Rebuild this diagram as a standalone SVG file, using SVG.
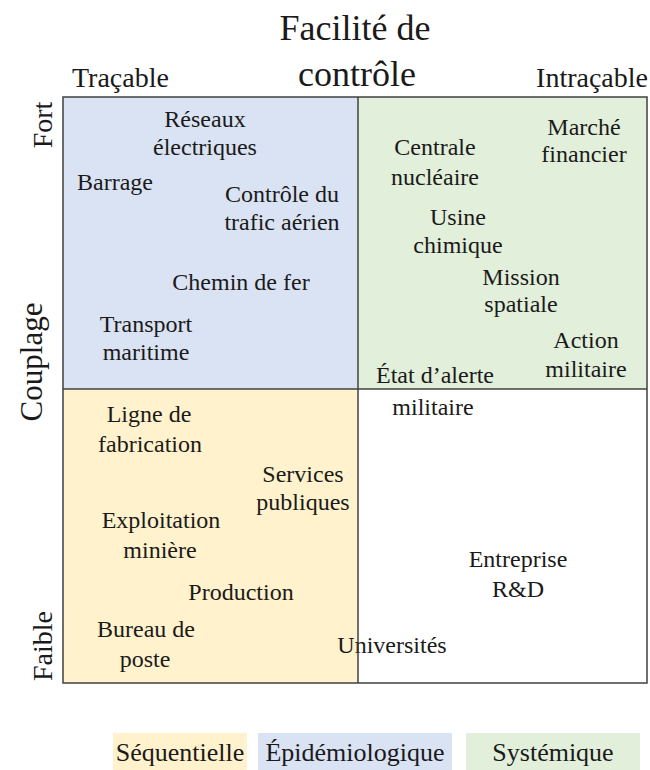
<svg xmlns="http://www.w3.org/2000/svg" width="650" height="770" viewBox="0 0 650 770">
<style>
text{font-family:"Liberation Serif","Times New Roman",serif;fill:#1a1a1a}
.b{font-size:24px;text-anchor:middle}
.ax{font-size:28px}
.t{font-size:36px;text-anchor:middle}
.lg{font-size:26px;text-anchor:middle}
.ln{stroke:#404040;stroke-width:1.5;fill:none}
</style>
<rect width="650" height="770" fill="#ffffff"/>
<g id="quadrants">
<rect x="63" y="97" width="295" height="292" fill="#dae3f3"/>
<rect x="358" y="97" width="289" height="292" fill="#e2efda"/>
<rect x="63" y="389" width="295" height="294" fill="#fff2cc"/>
</g>
<g id="title">
<text class="t" x="355" y="40">Facilité de</text>
<text class="t" x="357" y="86">contrôle</text>
</g>
<g id="axis-x">
<text class="ax" x="72" y="87">Traçable</text>
<text class="ax" x="648" y="87" text-anchor="end">Intraçable</text>
</g>
<g id="axis-y">
<text class="ax" x="52" y="125" text-anchor="middle" transform="rotate(-90 52 125)">Fort</text>
<text class="ax" x="52" y="646" text-anchor="middle" transform="rotate(-90 52 646)">Faible</text>
<text x="42" y="362" text-anchor="middle" font-size="31" transform="rotate(-90 42 362)">Couplage</text>
</g>
<g id="n-reseaux"><text class="b" x="205" y="127">Réseaux</text><text class="b" x="205" y="155">électriques</text></g>
<g id="n-barrage"><text class="b" x="115" y="190">Barrage</text></g>
<g id="n-trafic"><text class="b" x="282" y="202">Contrôle du</text><text class="b" x="282" y="230">trafic aérien</text></g>
<g id="n-chemin"><text class="b" x="241" y="290">Chemin de fer</text></g>
<g id="n-transport"><text class="b" x="146" y="332">Transport</text><text class="b" x="146" y="360">maritime</text></g>
<g id="n-marche"><text class="b" x="584" y="135">Marché</text><text class="b" x="584" y="162">financier</text></g>
<g id="n-centrale"><text class="b" x="435" y="155">Centrale</text><text class="b" x="435" y="185">nucléaire</text></g>
<g id="n-usine"><text class="b" x="458" y="225">Usine</text><text class="b" x="458" y="253">chimique</text></g>
<g id="n-mission"><text class="b" x="521" y="285">Mission</text><text class="b" x="521" y="312">spatiale</text></g>
<g id="n-action"><text class="b" x="586" y="348">Action</text><text class="b" x="586" y="377">militaire</text></g>
<g id="n-alerte"><text class="b" x="435" y="383">État d’alerte</text><text class="b" x="433" y="415">militaire</text></g>
<g id="n-ligne"><text class="b" x="149" y="422">Ligne de</text><text class="b" x="150" y="452">fabrication</text></g>
<g id="n-services"><text class="b" x="303" y="482">Services</text><text class="b" x="303" y="510">publiques</text></g>
<g id="n-exploitation"><text class="b" x="161" y="528">Exploitation</text><text class="b" x="160" y="558">minière</text></g>
<g id="n-production"><text class="b" x="241" y="600">Production</text></g>
<g id="n-bureau"><text class="b" x="146" y="637">Bureau de</text><text class="b" x="145" y="667">poste</text></g>
<g id="n-entreprise"><text class="b" x="518" y="567">Entreprise</text><text class="b" x="518" y="597">R&amp;D</text></g>
<g id="n-universites"><text class="b" x="392" y="653">Universités</text></g>
<g id="grid">
<rect class="ln" x="63" y="97" width="584" height="586"/>
<line class="ln" x1="358" y1="97" x2="358" y2="683"/>
<line class="ln" x1="63" y1="389" x2="647" y2="389"/>
</g>
<g id="legend">
<rect x="113" y="733" width="134" height="37" fill="#fff2cc"/>
<text class="lg" x="180" y="761">Séquentielle</text>
<rect x="258" y="733" width="194" height="37" fill="#dae3f3"/>
<text class="lg" x="355" y="761">Épidémiologique</text>
<rect x="466" y="733" width="174" height="37" fill="#e2efda"/>
<text class="lg" x="553" y="761">Systémique</text>
</g>
</svg>
